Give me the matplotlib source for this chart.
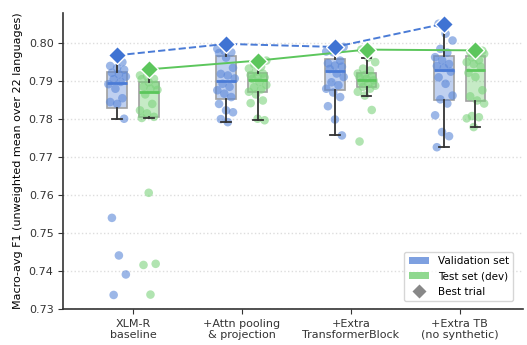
import numpy as np
import matplotlib
matplotlib.use("Agg")
import matplotlib.pyplot as plt
from matplotlib.patches import Patch
from matplotlib.lines import Line2D

categories = ["XLM-R\nbaseline", "+Attn pooling\n& projection", "+Extra\nTransformerBlock", "+Extra TB\n(no synthetic)"]

val_g1 = [0.7337, 0.7391, 0.7441, 0.7540, 0.7801, 0.7840, 0.7845, 0.7855, 0.7880, 0.7892,
          0.7898, 0.7905, 0.7912, 0.7918, 0.7922, 0.7930, 0.7935, 0.7940, 0.7950, 0.7966]
val_g2 = [0.7792, 0.7800, 0.7818, 0.7823, 0.7840, 0.7858, 0.7867, 0.7876, 0.7885, 0.7893,
          0.7907, 0.7915, 0.7919, 0.7935, 0.7962, 0.7974, 0.7976, 0.7980, 0.7985, 0.7998]
val_g3 = [0.7757, 0.7799, 0.7834, 0.7858, 0.7870, 0.7880, 0.7889, 0.7897, 0.7911, 0.7920,
          0.7932, 0.7938, 0.7941, 0.7947, 0.7954, 0.7976, 0.7978, 0.7982, 0.7986, 0.7990]
val_g4 = [0.7726, 0.7755, 0.7766, 0.7810, 0.7841, 0.7852, 0.7862, 0.7893, 0.7910, 0.7925,
          0.7935, 0.7940, 0.7945, 0.7955, 0.7963, 0.7975, 0.7985, 0.8007, 0.8025, 0.8051]

test_g1 = [0.7338, 0.7416, 0.7419, 0.7606, 0.7803, 0.7806, 0.7815, 0.7823, 0.7840, 0.7865,
           0.7877, 0.7880, 0.7885, 0.7890, 0.7897, 0.7905, 0.7906, 0.7912, 0.7915, 0.7931]
test_g2 = [0.7797, 0.7801, 0.7842, 0.7849, 0.7865, 0.7872, 0.7878, 0.7884, 0.7890, 0.7898,
           0.7906, 0.7910, 0.7913, 0.7916, 0.7920, 0.7925, 0.7933, 0.7938, 0.7945, 0.7954]
test_g3 = [0.7741, 0.7824, 0.7862, 0.7872, 0.7880, 0.7885, 0.7888, 0.7893, 0.7898, 0.7902,
           0.7906, 0.7910, 0.7913, 0.7916, 0.7920, 0.7928, 0.7933, 0.7950, 0.7962, 0.7983]
test_g4 = [0.7779, 0.7802, 0.7805, 0.7808, 0.7841, 0.7849, 0.7860, 0.7876, 0.7911, 0.7922,
           0.7938, 0.7945, 0.7950, 0.7955, 0.7963, 0.7972, 0.7975, 0.7977, 0.7980, 0.7981]

best_val = [0.7968, 0.7998, 0.7990, 0.8051]
best_test = [0.7931, 0.7954, 0.7983, 0.7981]

val_sets = [val_g1, val_g2, val_g3, val_g4]
test_sets = [test_g1, test_g2, test_g3, test_g4]

BLUE = "#4a7bd6"
GREEN = "#5cc65c"
BLUE_PT = "#5b87d8"
GREEN_PT = "#7dd37d"

fig = plt.figure(figsize=(5.27, 3.45), dpi=100)
ax = fig.add_axes([0.120, 0.1043, 0.872, 0.8587])

off = 0.145
width = 0.18
pos = np.arange(len(categories))

# deterministic jitter pattern (positions only)
def jitter(n, seed):
    return np.array([(((i * 7 + seed * 3) % 11) - 5) / 5.0 * 0.08 for i in range(n)])

for sets, sign, face, pc, seed in [(val_sets, -1, BLUE, BLUE_PT, 1), (test_sets, 1, GREEN, GREEN_PT, 2)]:
    bp = ax.boxplot(sets, positions=pos + sign * off, widths=width, showfliers=False,
                    patch_artist=True, manage_ticks=False, zorder=2)
    for b in bp["boxes"]:
        b.set_facecolor(matplotlib.colors.to_rgba(face, 0.35))
        b.set_edgecolor("#a0a0a0")
        b.set_linewidth(1.2)
    for m in bp["medians"]:
        m.set_color(face)
        m.set_linewidth(2)
        m.set_zorder(4)
    for w in bp["whiskers"]:
        w.set_color("#333333")
        w.set_linewidth(1.3)
        w.set_zorder(4)
    for c in bp["caps"]:
        c.set_color("#333333")
        c.set_linewidth(1.3)
        c.set_zorder(4)
    for i, s in enumerate(sets):
        xs = pos[i] + sign * off + jitter(len(s), seed + i)
        ax.scatter(xs, s, s=38, color=pc, alpha=0.6, edgecolors="none", zorder=3)

ax.plot(pos - off, best_val, linestyle="--", color=BLUE, lw=1.4, zorder=5)
ax.plot(pos + off, best_test, linestyle="-", color=GREEN, lw=1.4, zorder=5)
ax.plot(pos - off, best_val, linestyle="none", marker="D", markersize=9, color="#3f73d3",
        markeredgecolor="white", markeredgewidth=1.0, zorder=6)
ax.plot(pos + off, best_test, linestyle="none", marker="D", markersize=9, color=GREEN,
        markeredgecolor="white", markeredgewidth=1.0, zorder=6)

ax.set_xlim(-0.64, 3.58)
ax.set_ylim(0.73, 0.808)
ax.set_xticks(pos)
ax.set_xticklabels(categories, fontsize=8)
ax.set_yticks([0.73, 0.74, 0.75, 0.76, 0.77, 0.78, 0.79, 0.80])
ax.set_yticklabels(["0.73", "0.74", "0.75", "0.76", "0.77", "0.78", "0.79", "0.80"], fontsize=8)
ax.set_ylabel("Macro-avg F1 (unweighted mean over 22 languages)", fontsize=8)
ax.yaxis.grid(True, linestyle=":", color="#dddddd", lw=1.0)
ax.set_axisbelow(True)
for sp in ["top", "right"]:
    ax.spines[sp].set_visible(False)
for sp in ["left", "bottom"]:
    ax.spines[sp].set_color("#333333")
    ax.spines[sp].set_linewidth(1.2)
ax.tick_params(colors="#333333", length=3.5)

handles = [Patch(facecolor="#7ea0e0", edgecolor="none", label="Validation set"),
           Patch(facecolor="#8fd88f", edgecolor="none", label="Test set (dev)"),
           Line2D([0], [0], marker="D", color="none", markerfacecolor="#888888",
                  markeredgecolor="white", markersize=8, label="Best trial")]
ax.legend(handles=handles, loc="lower right", fontsize=7.5, frameon=True,
          bbox_to_anchor=(0.99, 0.01))

fig.savefig("out.png", dpi=100)
